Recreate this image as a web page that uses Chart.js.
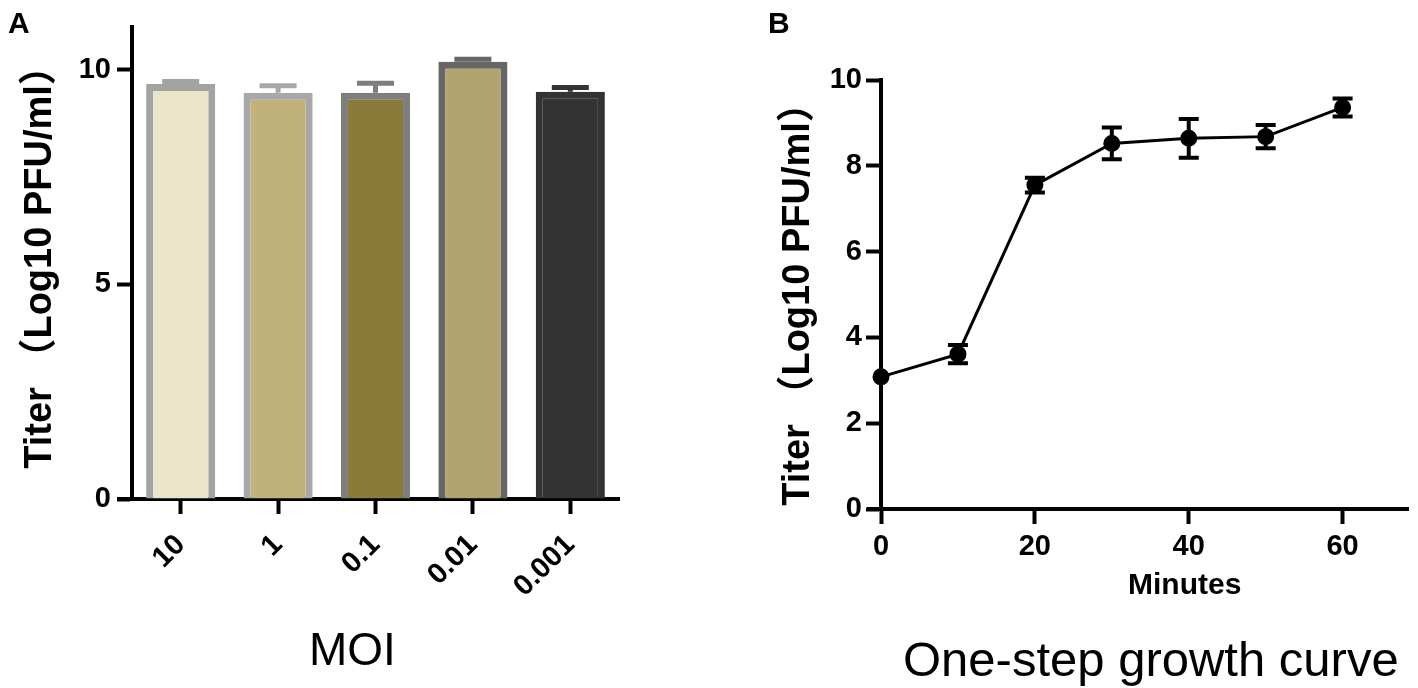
<!DOCTYPE html>
<html>
<head>
<meta charset="utf-8">
<script src="https://cdn.jsdelivr.net/npm/chart.js@4.4.0/dist/chart.umd.min.js"></script>
<style>
    html, body { margin: 0; padding: 0; background: #fff; }
    body {
        width: 1418px; height: 688px; position: relative; overflow: hidden;
        font-family: "Liberation Sans", "Noto Sans CJK SC", Arial, sans-serif; color: #000;
    }
    .panel { position: absolute; top: 0; height: 688px; }
    .txt { position: absolute; white-space: nowrap; line-height: 1; }
    .rot { transform: translate(-50%, -50%) rotate(-90deg); }
</style>
</head>
<body>
<div class="panel" style="left:0; width:660px;"><canvas id="chartA"></canvas></div>
<div class="panel" style="left:700px; width:718px;"><canvas id="chartB"></canvas></div>

<div class="txt" style="left:8px; top:8px; font-size:30px; font-weight:bold;">A</div>
<div class="txt" style="left:768px; top:8px; font-size:30px; font-weight:bold;">B</div>
<div class="txt rot" style="left:38px; top:258px; font-size:38px; font-weight:bold;">Titer （Log10 PFU/ml）</div>
<div class="txt rot" style="left:796px; top:295px; font-size:38px; font-weight:bold;">Titer （Log10 PFU/ml）</div>
<div class="txt" style="left:309px; top:626px; font-size:46px;">MOI</div>
<div class="txt" style="left:1128px; top:569px; font-size:30px; font-weight:bold;">Minutes</div>
<div class="txt" style="left:903px; top:635px; font-size:49px;">One-step growth curve</div>

<script>
// Panel A: titer at different MOI
const moiLabels = ['10', '1', '0.1', '0.01', '0.001'];
const titerMeans = [9.67, 9.47, 9.47, 10.19, 9.49];
const titerErrors = [0.06, 0.16, 0.22, 0.06, 0.10];
const titerTicksA = [0, 5, 10];

// Panel B: one-step growth curve
const minutes = [0, 10, 20, 30, 40, 50, 60];
const growthTiter = [3.08, 3.61, 7.55, 8.52, 8.64, 8.68, 9.36];
const growthErrors = [0, 0.21, 0.17, 0.37, 0.45, 0.27, 0.21];
const titerTicksB = [0, 2, 4, 6, 8, 10];
const minuteTicks = [0, 20, 40, 60];

// bar colours
const barFills = ['#ebe6c9', '#bfb27b', '#8b7b3b', '#b0a370', '#333333'];
const barBorders = ['#a3a3a3', '#a8a8a8', '#7e7e7e', '#666666', '#333333'];

const tickFont = { family: 'Liberation Sans', weight: 'bold', size: 29 };

// draws error bars from the dataset's errors array
const errorBars = {
    id: 'errorBars',
    afterDatasetsDraw(chart) {
        const ctx = chart.ctx;
        const ys = chart.scales.y;
        chart.data.datasets.forEach((ds, di) => {
            if (!ds.errors) return;
            const meta = chart.getDatasetMeta(di);
            meta.data.forEach((el, i) => {
                const err = ds.errors[i];
                if (!err) return;
                const v = typeof ds.data[i] === 'object' ? ds.data[i].y : ds.data[i];
                const yTop = ys.getPixelForValue(v + err);
                const yBot = ys.getPixelForValue(ds.errBoth ? v - err : v);
                const half = ds.capWidth / 2;
                ctx.save();
                ctx.strokeStyle = Array.isArray(ds.errColor) ? ds.errColor[i] : ds.errColor;
                ctx.lineWidth = ds.errWidth;
                ctx.beginPath();
                ctx.moveTo(el.x, yBot);
                ctx.lineTo(el.x, yTop);
                ctx.moveTo(el.x - half, yTop);
                ctx.lineTo(el.x + half, yTop);
                if (ds.errBoth) {
                    ctx.moveTo(el.x - half, yBot);
                    ctx.lineTo(el.x + half, yBot);
                }
                ctx.stroke();
                ctx.restore();
            });
        });
    }
};

// GraphPad style: x axis runs a bit past the y axis on the left
const axisStub = {
    id: 'axisStub',
    afterDraw(chart, args, opts) {
        const a = chart.chartArea;
        const ctx = chart.ctx;
        ctx.save();
        ctx.strokeStyle = '#000';
        ctx.lineWidth = 4;
        ctx.beginPath();
        ctx.moveTo(a.left - opts.length, a.bottom);
        ctx.lineTo(a.left, a.bottom);
        ctx.stroke();
        ctx.restore();
    }
};

function axisStyle() {
    return {
        grid: { display: true, drawOnChartArea: false, drawTicks: true, tickLength: 15, tickWidth: 4, tickColor: '#000' },
        border: { display: true, width: 4, color: '#000' }
    };
}

new Chart(document.getElementById('chartA'), {
    type: 'bar',
    data: {
        labels: moiLabels,
        datasets: [{
            data: titerMeans,
            backgroundColor: barFills,
            borderColor: barBorders,
            borderWidth: 7,
            borderSkipped: 'bottom',
            barPercentage: 0.71,
            categoryPercentage: 1.0,
            errors: titerErrors,
            errColor: barBorders,
            errWidth: 5,
            capWidth: 37,
            errBoth: false
        }]
    },
    options: {
        responsive: true,
        maintainAspectRatio: false,
        animation: false,
        layout: { padding: { left: 0, top: 27, right: 41, bottom: 0 } },
        plugins: { legend: { display: false }, tooltip: { enabled: false }, axisStub: { length: 15 } },
        scales: {
            x: Object.assign(axisStyle(), {
                offset: true,
                grid: { display: true, drawOnChartArea: false, drawTicks: true, tickLength: 15, tickWidth: 4, tickColor: '#000', offset: false },
                ticks: { color: '#000', font: tickFont, minRotation: 45, maxRotation: 45, padding: 14 },
                afterFit: s => { s.height = 189; }
            }),
            y: Object.assign(axisStyle(), {
                min: 0, max: 11,
                afterBuildTicks: s => { s.ticks = titerTicksA.map(v => ({ value: v })); },
                ticks: { color: '#000', font: tickFont, padding: 6 },
                afterFit: s => { s.width = 132; }
            })
        }
    },
    plugins: [errorBars, axisStub]
});

new Chart(document.getElementById('chartB'), {
    type: 'scatter',
    data: {
        datasets: [{
            data: minutes.map((m, i) => ({ x: m, y: growthTiter[i] })),
            showLine: true,
            borderColor: '#000',
            borderWidth: 3,
            pointRadius: 7,
            pointBackgroundColor: '#000',
            pointBorderColor: '#000',
            clip: false,
            errors: growthErrors,
            errColor: '#000',
            errWidth: 4,
            capWidth: 20,
            errBoth: true
        }]
    },
    options: {
        responsive: true,
        maintainAspectRatio: false,
        animation: false,
        layout: { padding: { left: 0, top: 80, right: 7, bottom: 0 } },
        plugins: { legend: { display: false }, tooltip: { enabled: false }, axisStub: { length: 14 } },
        scales: {
            x: Object.assign(axisStyle(), {
                type: 'linear',
                min: 0, max: 68.5,
                afterBuildTicks: s => { s.ticks = minuteTicks.map(v => ({ value: v })); },
                ticks: { color: '#000', font: tickFont, padding: 6, maxRotation: 0 },
                afterFit: s => { s.height = 179; }
            }),
            y: Object.assign(axisStyle(), {
                min: 0, max: 10,
                afterBuildTicks: s => { s.ticks = titerTicksB.map(v => ({ value: v })); },
                ticks: { color: '#000', font: tickFont, padding: 4 },
                afterFit: s => { s.width = 181; }
            })
        }
    },
    plugins: [errorBars, axisStub]
});
</script>
</body>
</html>
